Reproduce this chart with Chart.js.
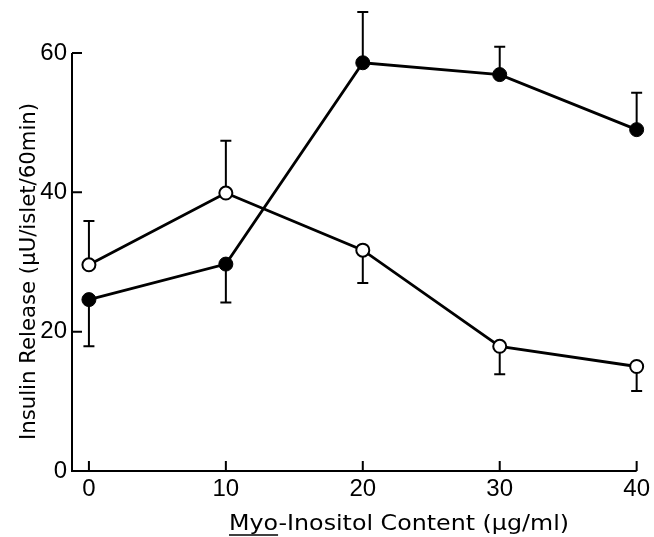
<!DOCTYPE html>
<html><head><meta charset="utf-8">
<script src="https://cdn.jsdelivr.net/npm/chart.js@4"></script>
<style>html,body{margin:0;padding:0;background:#fff}#wrap{width:654px;height:537px}</style>
</head><body><div id="wrap"><canvas id="c" width="654" height="537"></canvas></div>
<script>
// ---- data ----
const concentrations = [0, 10, 20, 30, 40];
const filledMeans   = [24.6, 29.7, 58.6, 56.9, 49.0];
const filledErrEnds = [17.9, 24.2, 65.9, 60.9, 54.3];
const openMeans     = [29.6, 39.9, 31.7, 17.9, 15.0];
const openErrEnds   = [35.9, 47.4, 27.0, 13.9, 11.5];
const xTickValues = [0, 10, 20, 30, 40];
const yTickValues = [0, 20, 40, 60];
const xAxisTitle = 'Myo-Inositol Content (μg/ml)';
const xTitleUnderlined = 'Myo';
const yAxisTitle = 'Insulin Release (μU/islet/60min)';

const TICK_FONT = '"Liberation Sans", Arial, sans-serif';
const TITLE_FONT = '"DejaVu Sans", sans-serif';
const toPts = (ys) => concentrations.map((x, i) => ({x, y: ys[i]}));
const errEnds = [filledErrEnds, openErrEnds];

const axesPlugin = {
  id: 'axesAndErrors',
  beforeDatasetsDraw(chart) {
    const {ctx, scales: {x, y}} = chart;
    ctx.save();
    ctx.strokeStyle = '#000';
    ctx.lineWidth = 2;
    ctx.lineCap = 'butt';
    const x0 = x.left;
    const yb = y.getPixelForValue(0);
    const yTop = y.getPixelForValue(yTickValues[yTickValues.length - 1]);
    const xEnd = x.getPixelForValue(xTickValues[xTickValues.length - 1]);
    ctx.beginPath();
    ctx.moveTo(x0, yTop); ctx.lineTo(x0, yb); ctx.lineTo(xEnd, yb);
    yTickValues.forEach(v => { const p = y.getPixelForValue(v); ctx.moveTo(x0, p); ctx.lineTo(x0 + 10, p); });
    xTickValues.forEach(v => { const p = x.getPixelForValue(v); ctx.moveTo(p, yb); ctx.lineTo(p, yb - 10); });
    ctx.stroke();
    // error bars
    chart.data.datasets.forEach((ds, i) => {
      const meta = chart.getDatasetMeta(i);
      meta.data.forEach((pt, j) => {
        const ye = y.getPixelForValue(errEnds[i][j]);
        ctx.beginPath();
        ctx.moveTo(pt.x, pt.y); ctx.lineTo(pt.x, ye);
        ctx.moveTo(pt.x - 5.5, ye); ctx.lineTo(pt.x + 5.5, ye);
        ctx.stroke();
      });
    });
    ctx.restore();
  },
  afterDraw(chart) {
    const {ctx} = chart;
    ctx.save();
    ctx.fillStyle = '#000';
    ctx.strokeStyle = '#000';
    ctx.textBaseline = 'middle';
    ctx.textAlign = 'left';
    ctx.font = '22px ' + TITLE_FONT;
    // x title, stretched to the reference width
    const xStart = 229, xWidth = 340;
    const w1 = ctx.measureText(xAxisTitle).width;
    const sx1 = xWidth / w1;
    const wu = ctx.measureText(xTitleUnderlined).width * sx1;
    ctx.save();
    ctx.translate(xStart, 524);
    ctx.scale(sx1, 1);
    ctx.fillText(xAxisTitle, 0, 0);
    ctx.restore();
    ctx.lineWidth = 1.5;
    ctx.beginPath(); ctx.moveTo(xStart, 535); ctx.lineTo(xStart + wu, 535); ctx.stroke();
    // y title
    const yLen = 337;
    const w2 = ctx.measureText(yAxisTitle).width;
    const sx2 = yLen / w2;
    ctx.save();
    ctx.translate(29, 271.5);
    ctx.rotate(-Math.PI / 2);
    ctx.scale(sx2, 1);
    ctx.textAlign = 'center';
    ctx.fillText(yAxisTitle, 0, 0);
    ctx.restore();
    ctx.restore();
  }
};

new Chart(document.getElementById('c'), {
  type: 'line',
  data: {
    datasets: [
      {
        data: toPts(filledMeans),
        borderColor: '#000', borderWidth: 2.8,
        backgroundColor: '#000',
        pointRadius: 7, pointBorderWidth: 1,
        pointBackgroundColor: '#000', pointBorderColor: '#000',
        fill: false, tension: 0, clip: false
      },
      {
        data: toPts(openMeans),
        borderColor: '#000', borderWidth: 2.8,
        backgroundColor: '#fff',
        pointRadius: 6.5, pointBorderWidth: 2,
        pointBackgroundColor: '#fff', pointBorderColor: '#000',
        fill: false, tension: 0, clip: false
      }
    ]
  },
  options: {
    responsive: false,
    animation: false,
    devicePixelRatio: 1,
    layout: { padding: { top: 53, right: 15, left: 0, bottom: 0 } },
    plugins: { legend: { display: false }, tooltip: { enabled: false }, title: { display: false } },
    scales: {
      x: {
        type: 'linear',
        min: -1.236, max: 40,
        grid: { display: false, drawTicks: false },
        border: { display: false },
        afterBuildTicks: s => { s.ticks = xTickValues.map(v => ({ value: v })); },
        afterFit: s => { s.height = 66; },
        ticks: { color: '#000', font: { family: TICK_FONT, size: 24 }, padding: 4, maxRotation: 0, autoSkip: false }
      },
      y: {
        type: 'linear',
        min: 0, max: 60,
        grid: { display: false, drawTicks: false },
        border: { display: false },
        afterBuildTicks: s => { s.ticks = yTickValues.map(v => ({ value: v })); },
        afterFit: s => { s.width = 72; },
        ticks: { color: '#000', font: { family: TICK_FONT, size: 24 }, padding: 5 }
      }
    }
  },
  plugins: [axesPlugin]
});
</script>
</body></html>
